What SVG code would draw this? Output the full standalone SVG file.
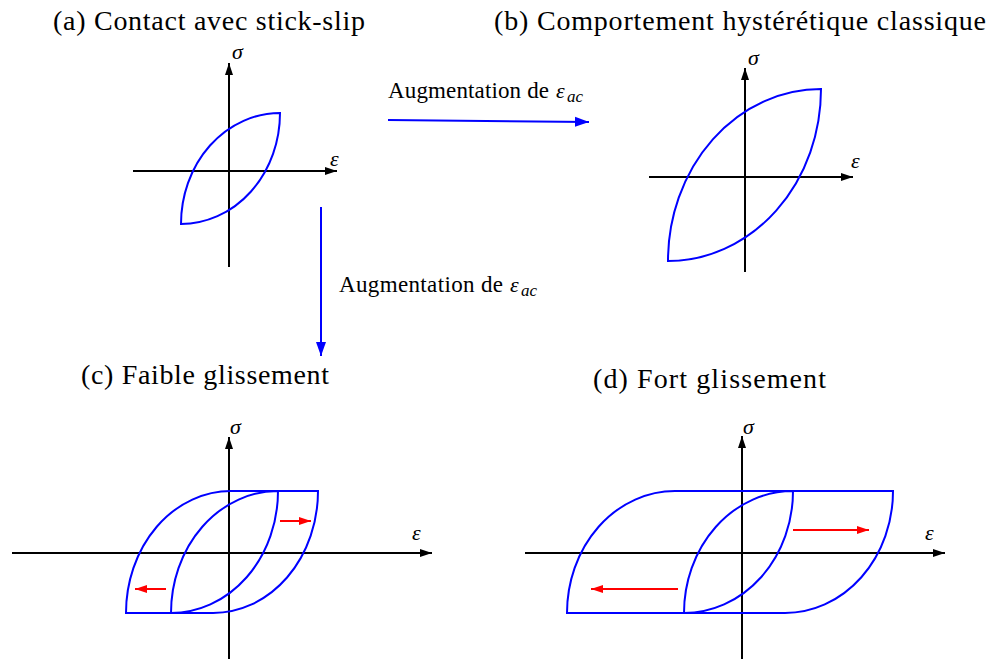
<svg xmlns="http://www.w3.org/2000/svg" width="990" height="659" viewBox="0 0 990 659">
<style>
.title{font-family:"Liberation Serif","DejaVu Serif",serif;font-size:28px;fill:#000}
.lab{font-family:"Liberation Serif","DejaVu Serif",serif;font-size:23px;fill:#000}
.var{font-family:"Liberation Serif","DejaVu Serif",serif;font-size:22px;font-style:italic;fill:#000}
.sub{font-family:"Liberation Serif","DejaVu Serif",serif;font-size:17px;font-style:italic;fill:#000}
.axis{stroke:#000;stroke-width:2;fill:none}
.loop{stroke:#0000ff;stroke-width:2;fill:none;stroke-linejoin:miter}
.red{stroke:#ff0000;stroke-width:2;fill:none}
.blue{stroke:#0000ff;stroke-width:2;fill:none}
</style>
<defs>
<marker id="ab" markerUnits="userSpaceOnUse" markerWidth="14" markerHeight="10" refX="12" refY="5" orient="auto"><path d="M0,1 L12,5 L0,9 Z" fill="#000"/></marker>
<marker id="ar" markerUnits="userSpaceOnUse" markerWidth="14" markerHeight="10" refX="12" refY="5" orient="auto"><path d="M0,1 L12,5 L0,9 Z" fill="#ff0000"/></marker>
<marker id="au" markerUnits="userSpaceOnUse" markerWidth="16" markerHeight="12" refX="14" refY="6" orient="auto"><path d="M0,1 L14,6 L0,11 Z" fill="#0000ff"/></marker>
</defs>
<rect width="990" height="659" fill="#fff"/>

<g id="panel-a">
<text class="title" x="53" y="30" textLength="312">(a) Contact avec stick-slip</text>
<line class="axis" x1="229" y1="267" x2="229" y2="63" marker-end="url(#ab)"/>
<line class="axis" x1="133" y1="171" x2="337" y2="171" marker-end="url(#ab)"/>
<text class="var" x="232" y="59">σ</text>
<text class="var" x="330" y="166">ε</text>
<path class="loop" d="M181,224 A99,111 0 0 1 280,113 A99,111 0 0 1 181,224 Z"/>
</g>

<g id="panel-b">
<text class="title" x="494" y="30" textLength="492">(b) Comportement hystérétique classique</text>
<line class="axis" x1="745" y1="272" x2="745" y2="68" marker-end="url(#ab)"/>
<line class="axis" x1="649" y1="177" x2="853" y2="177" marker-end="url(#ab)"/>
<text class="var" x="748" y="65">σ</text>
<text class="var" x="851" y="168">ε</text>
<path class="loop" d="M668,261 A153,172 0 0 1 821,89 A153,172 0 0 1 668,261 Z"/>
</g>

<g id="panel-c">
<text class="title" x="81" y="384" textLength="248">(c) Faible glissement</text>
<line class="axis" x1="229" y1="659" x2="229" y2="437" marker-end="url(#ab)"/>
<line class="axis" x1="12" y1="553" x2="432" y2="553" marker-end="url(#ab)"/>
<text class="var" x="230" y="434">σ</text>
<text class="var" x="412" y="540">ε</text>
<path class="loop" d="M126,613 A105,122 0 0 1 231,491 L318,491 A105,122 0 0 1 213,613 Z"/>
<path class="loop" d="M171,613 A107,122 0 0 1 278,491 A107,122 0 0 1 171,613 Z"/>
<line class="red" x1="280" y1="521" x2="311" y2="521" marker-end="url(#ar)"/>
<line class="red" x1="166" y1="589" x2="135" y2="589" marker-end="url(#ar)"/>
</g>

<g id="panel-d">
<text class="title" x="593" y="388" textLength="233">(d) Fort glissement</text>
<line class="axis" x1="742" y1="659" x2="742" y2="436" marker-end="url(#ab)"/>
<line class="axis" x1="525" y1="553" x2="945" y2="553" marker-end="url(#ab)"/>
<text class="var" x="743" y="434">σ</text>
<text class="var" x="925" y="540">ε</text>
<path class="loop" d="M567,613 A108,122 0 0 1 675,491 L893,491 A108,122 0 0 1 785,613 Z"/>
<path class="loop" d="M684,613 A109,122 0 0 1 793,491 A109,122 0 0 1 684,613 Z"/>
<line class="red" x1="793" y1="530" x2="869" y2="530" marker-end="url(#ar)"/>
<line class="red" x1="678" y1="589" x2="591" y2="589" marker-end="url(#ar)"/>
</g>

<g id="connectors">
<line class="blue" x1="388" y1="120" x2="589" y2="122" marker-end="url(#au)"/>
<line class="blue" x1="321" y1="207" x2="321" y2="356" marker-end="url(#au)"/>
<text class="lab" x="388" y="98" textLength="161">Augmentation de</text>
<text class="var" x="556" y="98">ε</text>
<text class="sub" x="567" y="102">ac</text>
<text class="lab" x="339" y="292" textLength="164">Augmentation de</text>
<text class="var" x="510" y="292">ε</text>
<text class="sub" x="521" y="296">ac</text>
</g>
</svg>
